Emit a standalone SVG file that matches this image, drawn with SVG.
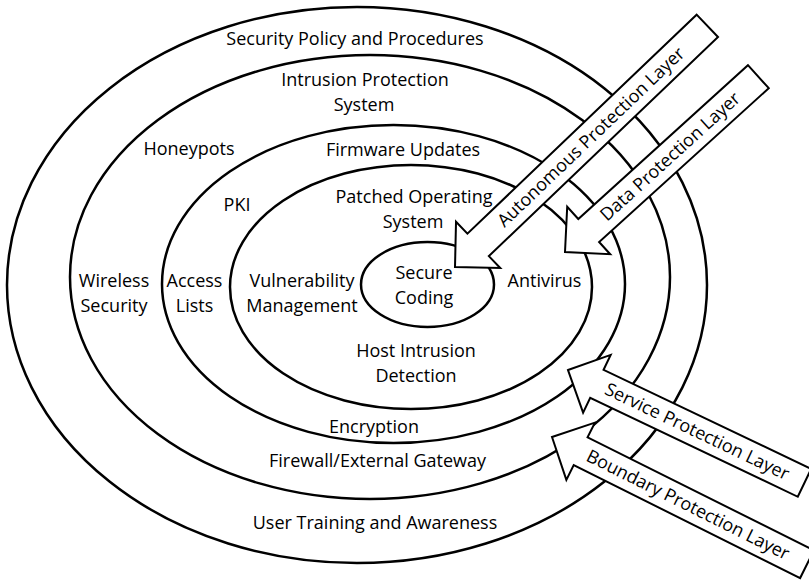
<svg xmlns="http://www.w3.org/2000/svg" width="809" height="583" viewBox="0 0 809 583">
<style>
.ring{fill:none;stroke:#000;stroke-width:2.5}
.lbl{font-family:"Open Sans","Liberation Sans",sans-serif;font-size:18px;fill:#000;text-anchor:middle}
.arrow{fill:#fff;stroke:#000;stroke-width:2;stroke-linejoin:miter}
</style>
<rect width="809" height="583" fill="#fff"/>
<g id="ring-outer">
<ellipse class="ring" cx="357" cy="285" rx="350" ry="278"/>
<text class="lbl" x="355" y="45">Security Policy and Procedures</text>
<text class="lbl" x="375" y="529">User Training and Awareness</text>
<text class="lbl" x="114" y="287">Wireless</text>
<text class="lbl" x="114" y="312">Security</text>
</g>
<g id="ring-2">
<ellipse class="ring" cx="370" cy="277" rx="300" ry="222"/>
<text class="lbl" x="365" y="86">Intrusion Protection</text>
<text class="lbl" x="364" y="111">System</text>
<text class="lbl" x="189" y="155">Honeypots</text>
<text class="lbl" x="194.5" y="287">Access</text>
<text class="lbl" x="194.5" y="312">Lists</text>
<text class="lbl" x="377.5" y="467">Firewall/External Gateway</text>
</g>
<g id="ring-3">
<ellipse class="ring" cx="393.5" cy="284" rx="231.5" ry="159"/>
<text class="lbl" x="403" y="156">Firmware Updates</text>
<text class="lbl" x="237" y="211">PKI</text>
<text class="lbl" x="374" y="433">Encryption</text>
</g>
<g id="ring-4">
<ellipse class="ring" cx="411" cy="287" rx="181" ry="122"/>
<text class="lbl" x="414" y="203">Patched Operating</text>
<text class="lbl" x="413" y="228">System</text>
<text class="lbl" x="302" y="287">Vulnerability</text>
<text class="lbl" x="302" y="312">Management</text>
<text class="lbl" x="544.5" y="287">Antivirus</text>
<text class="lbl" x="416" y="357">Host Intrusion</text>
<text class="lbl" x="416" y="382">Detection</text>
</g>
<g id="core">
<ellipse class="ring" cx="427.5" cy="284.5" rx="66.5" ry="42.5"/>
<text class="lbl" x="424" y="279">Secure</text>
<text class="lbl" x="424" y="304">Coding</text>
</g>
<g id="connectors">
<g id="arrow-autonomous" transform="translate(455,267) rotate(-43.7)">
<polygon class="arrow" points="0,0 32,-32 32,-15.5 349,-15.5 349,15.5 32,15.5 32,32"/>
<text class="lbl" x="188" y="6">Autonomous Protection Layer</text>
</g>
<g id="arrow-data" transform="translate(565,252) rotate(-42.2)">
<polygon class="arrow" points="0,0 32,-32 32,-15.5 261,-15.5 261,15.5 32,15.5 32,32"/>
<text class="lbl" x="142" y="6">Data Protection Layer</text>
</g>
<g id="arrow-service" transform="translate(568,370) rotate(25.5)">
<polygon class="arrow" points="0,0 32,-32 32,-15.5 262,-15.5 262,15.5 32,15.5 32,32"/>
<text class="lbl" x="143" y="6">Service Protection Layer</text>
</g>
<g id="arrow-boundary" transform="translate(552,437) rotate(26.5)">
<polygon class="arrow" points="0,0 32,-32 32,-15.5 285,-15.5 285,15.5 32,15.5 32,32"/>
<text class="lbl" x="152" y="6">Boundary Protection Layer</text>
</g>
</g>
</svg>
